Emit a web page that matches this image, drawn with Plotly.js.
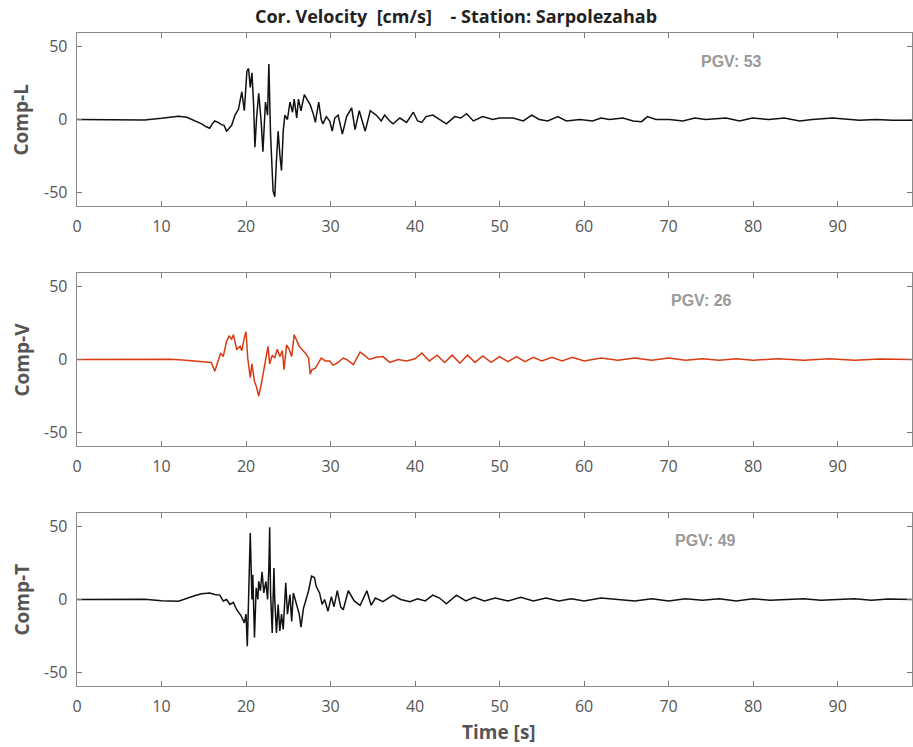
<!DOCTYPE html>
<html>
<head>
<meta charset="utf-8">
<script src="https://cdn.plot.ly/plotly-3.0.1.min.js"></script>
<style>html,body{margin:0;padding:0;background:#fff;}#chart{width:913px;height:747px;}</style>
</head>
<body>
<div id="chart"></div>
<script>
// ---- Data ----
const componentNames = ["Comp-L", "Comp-V", "Comp-T"];
const pgvValues = [53, 26, 49];
const xTickValues = [0, 10, 20, 30, 40, 50, 60, 70, 80, 90];
const yTickValues = [-50, 0, 50];

// Comp-L
const timeL = [
  0, 2, 4, 6, 8, 10, 11, 12, 13, 14,
  14.75, 15.3, 15.7, 16.0, 16.3, 16.7, 17.1, 17.4, 17.7, 18.0,
  18.3, 18.7, 19.1, 19.5, 19.8, 20.1, 20.3, 20.5, 20.7, 20.9,
  21.05, 21.25, 21.5, 21.8, 22.0, 22.3, 22.55, 22.7, 22.9, 23.2,
  23.4, 23.6, 23.8, 24.0, 24.2, 24.4, 24.6, 24.9, 25.2, 25.5,
  25.7, 26.0, 26.2, 26.5, 26.9, 27.2, 27.6, 28.0, 28.2, 28.6,
  28.9, 29.1, 29.5, 29.9, 30.2, 30.5, 30.9, 31.4, 31.9, 32.5,
  32.9, 33.4, 34.1, 34.7, 35.4, 36.0, 36.4, 37.0, 37.4, 38.2,
  39.0, 39.8, 40.3, 40.8, 41.3, 42.1, 42.9, 43.7, 44.7, 45.4,
  46.1, 46.9, 48.0, 49.2, 50.0, 51.6, 52.8, 53.8, 54.7, 55.7,
  56.9, 57.9, 59.5, 61.0, 62.0, 63.0, 64.6, 65.8, 66.8, 67.5,
  68.5, 70.1, 71.7, 73.1, 74.4, 76.8, 78.4, 79.9, 81.9, 83.7,
  85.5, 87.0, 89.4, 91.0, 92.6, 94.5, 96.5, 98.8
];
const velL = [
  0, 0, -0.3, -0.5, -0.3, 0.8, 1.8, 2.3, 1.5, -1,
  -3, -5, -6, -3, -1, -2, -3.5, -4, -8, -6,
  -4, 3, 7, 19, 6, 33, 35, 22, 32, 10,
  -19, 1, 18, -2, -22, 12, 3, 38, -10, -49,
  -53, -28, -8, -24, -35, -8, 3, 0, 12, 5,
  14, 1, 14, 6, 17, 14, 10, 3, -2, 12,
  0, -3, 2, -1, -8, 1, 3, -10, 2, 8,
  -7, 6, -8, 6, 3, -1, 3, -1, -3, 1,
  -2, 5, -1, -2, 2, 3, 0, -3, 2, 1,
  4, -1, 2, 0, 1, 1, -1, 3, 0, -1,
  2, -1, 0, -1, 1, 0, 1, -1, -1.5, 2,
  0, 0, -1, 1, 0, 1, -1, 1, 0, 1,
  -1, 0, 1, 0, -0.5, 0, -0.5, -0.5
];

// Comp-V
const timeV = [
  0, 3, 6, 9, 11, 12.5, 14.0, 15.0, 15.5, 15.9,
  16.3, 16.7, 17.0, 17.3, 17.7, 18.0, 18.3, 18.5, 18.9, 19.3,
  19.5, 19.8, 20.0, 20.2, 20.5, 20.7, 21.0, 21.25, 21.5, 21.8,
  22.0, 22.3, 22.6, 22.8, 23.1, 23.4, 23.7, 24.0, 24.3, 24.5,
  24.8, 25.1, 25.4, 25.7, 26.0, 26.3, 26.6, 27.0, 27.4, 27.6,
  27.8, 28.2, 28.6, 28.9, 29.4, 29.9, 30.3, 30.9, 31.5, 31.9,
  32.7, 33.5, 34.0, 34.6, 35.4, 36.2, 37.0, 38.0, 39.0, 40.0,
  40.8, 41.7, 42.6, 43.5, 44.4, 45.3, 46.2, 47.1, 48.0, 49.0,
  50.0, 51.0, 52.0, 53.0, 54.0, 55.0, 56.2, 57.4, 58.6, 60.0,
  62.0, 64.0, 66.0, 68.0, 70.0, 72.0, 74.0, 76.0, 78.0, 80.0,
  83.0, 86.0, 89.0, 92.0, 95.0, 98.8
];
const velV = [
  0, 0, 0.3, 0.3, 0.2, -0.3, -1, -1.2, -1.5, -2,
  -8, -1, 4.5, 2, 12.5, 16, 14, 17, 7, 9,
  6, 15, 19, 1, -12.5, -3, -15, -19, -25, -17,
  -10, -1, 9, -3, 3, 1, 7, 2, 6, -7,
  10, 7, 2, 17, 12.5, 9, 7, 4.5, 1, -10,
  -7, -6, -2, 1, -1, -1, -4, -2, 1, 0,
  -3.5, 5, 3, 0, 1.5, 2, -2, 0, -1, 0.5,
  4.5, -1, 3, -2, 3, -2.5, 3, -2, 2.5, -2,
  2, -1.5, 2, -1.5, 1.5, -1, 1.5, -1, 1.5, -1,
  1, -0.5, 1, -0.5, 1, -0.5, 0.5, -0.5, 0.5, -0.5,
  0.5, -0.5, 0.5, -0.5, 0.3, 0
];

// Comp-T
const timeT = [
  0, 4, 8, 10, 12, 14, 14.75, 15.7, 16.3, 16.9,
  17.3, 17.7, 18.1, 18.5, 18.9, 19.4, 19.8, 20.0, 20.15, 20.3,
  20.5, 20.7, 20.8, 21.0, 21.2, 21.4, 21.5, 21.7, 21.9, 22.1,
  22.35, 22.55, 22.7, 22.8, 22.9, 23.1, 23.3, 23.4, 23.6, 23.8,
  24.0, 24.2, 24.4, 24.7, 24.9, 25.2, 25.4, 25.6, 25.8, 26.0,
  26.3, 26.5, 26.8, 27.0, 27.4, 27.75, 28.1, 28.3, 28.7, 29.0,
  29.3, 29.7, 30.1, 30.4, 30.8, 31.2, 31.5, 32.1, 32.8, 33.5,
  34.3, 34.8, 35.3, 36.2, 37.4, 38.3, 39.4, 40.3, 41.2, 42.1,
  42.9, 43.7, 44.9, 46.0, 47.0, 48.2, 49.5, 51.0, 52.5, 54.0,
  55.5, 57.0, 58.5, 60.0, 62.0, 64.0, 66.0, 68.0, 70.0, 72.0,
  74.0, 76.0, 78.0, 80.0, 82.0, 84.0, 86.0, 88.0, 90.0, 92.0,
  94.0, 96.0, 98.8
];
const velT = [
  0, 0.3, 0.2, -0.8, -1.2, 2.7, 4, 4.5, 3.4, 3,
  -1, 0, -3.4, -2, -7, -11, -16, -10, -32, 0,
  45.6, 0, 17, -26, 8, 0, 12.5, 6, 19, 4.5,
  12.5, 0, 21.6, 49.5, 5, -23, 21.6, 0, -23, -3.4,
  -21.6, -10, -20.5, 11.4, -10, 3.4, -15, 4.5, 0, -3.4,
  -10, -19, -6, -2, 6, 16, 15, 9, 4.5, -3.4,
  0, -8, 2, -5, 6, -5, -7, 6, -1, -4,
  6, -4, 1, -1.5, 3, 0, -1.5, 0.5, -1, 3,
  1, -3, 3, -1, 1.5, -1, 1, -1, 1.5, -1,
  1, -1, 0.5, -1, 1, 0, -1, 0.5, -1, 0.5,
  -0.5, 0.5, -1, 0.5, -0.5, 0, 0.5, -0.5, 0, 0.5,
  -0.5, 0.3, 0
];

// ---- Figure ----
const lineColors = ["#111111", "#D93A12", "#111111"];
const times = [timeL, timeV, timeT];
const vels = [velL, velV, velT];

const traces = [0, 1, 2].map(i => ({
  type: "scatter",
  mode: "lines",
  x: times[i],
  y: vels[i],
  xaxis: i === 0 ? "x" : "x" + (i + 1),
  yaxis: i === 0 ? "y" : "y" + (i + 1),
  line: { color: lineColors[i], width: 1.5 },
  hoverinfo: "skip",
  showlegend: false
}));

const H = 653; // plot height in px
const domains = [
  [(686 - 206) / H, 1],
  [(686 - 446) / H, (686 - 273) / H],
  [0, 173 / H]
];

const tickFont = { family: "Open Sans, DejaVu Sans, sans-serif", size: 16, color: "#555" };

function xAxis(i) {
  return {
    domain: [0, 1],
    anchor: i === 0 ? "y" : "y" + (i + 1),
    range: [0, 98.8],
    tickvals: xTickValues,
    ticktext: xTickValues.map(String),
    ticks: "inside",
    ticklen: 5,
    tickwidth: 1,
    tickcolor: "#777",
    mirror: "ticks",
    showline: true,
    linecolor: "#8a8a8a",
    linewidth: 1.3,
    showgrid: false,
    zeroline: false,
    tickfont: tickFont,
    ticklabelstandoff: 5,
    fixedrange: true
  };
}
function yAxis(i) {
  return {
    domain: domains[i],
    anchor: i === 0 ? "x" : "x" + (i + 1),
    range: [-59.3, 59.3],
    tickvals: yTickValues,
    ticktext: yTickValues.map(String),
    ticks: "inside",
    ticklen: 5,
    tickwidth: 1,
    tickcolor: "#777",
    mirror: "ticks",
    showline: true,
    linecolor: "#8a8a8a",
    linewidth: 1.3,
    showgrid: false,
    zeroline: false,
    tickfont: tickFont,
    ticklabelstandoff: 5,
    fixedrange: true
  };
}

const annotations = [];
componentNames.forEach((name, i) => {
  annotations.push({
    text: "<b>" + name + "</b>",
    xref: "paper", yref: "paper",
    x: 0, y: (domains[i][0] + domains[i][1]) / 2,
    xanchor: "center", yanchor: "middle",
    xshift: -56,
    textangle: -90,
    showarrow: false,
    font: { family: "Open Sans, DejaVu Sans, sans-serif", size: 19, color: "#555" }
  });
});
const pgvX = [731, 701, 705];
const pgvYpx = [61, 300, 540];
pgvValues.forEach((v, i) => {
  annotations.push({
    text: "<b>PGV: " + v + "</b>",
    xref: "paper", yref: "paper",
    x: (pgvX[i] - 77) / 835,
    y: (686 - pgvYpx[i]) / H,
    xanchor: "center", yanchor: "middle",
    showarrow: false,
    font: { family: "Liberation Sans, Arial, sans-serif", size: 16, color: "#999" }
  });
});
annotations.push({
  text: "<b>Time [s]</b>",
  xref: "paper", yref: "paper",
  x: (499 - 77) / 835, y: (686 - 732) / H,
  xanchor: "center", yanchor: "middle",
  showarrow: false,
  font: { family: "Open Sans, DejaVu Sans, sans-serif", size: 19, color: "#555" }
});

const layout = {
  width: 913, height: 747,
  margin: { l: 77, r: 1, t: 33, b: 61, pad: 0 },
  paper_bgcolor: "#ffffff",
  plot_bgcolor: "#ffffff",
  title: {
    text: "<b>Cor. Velocity\u00A0\u00A0[cm/s]\u00A0\u00A0\u00A0\u00A0- Station: Sarpolezahab</b>",
    x: 456 / 913, xanchor: "center",
    y: (747 - 17) / 747, yanchor: "middle",
    font: { family: "Open Sans, DejaVu Sans, sans-serif", size: 18, color: "#222" }
  },
  showlegend: false,
  annotations: annotations,
  xaxis: xAxis(0), xaxis2: xAxis(1), xaxis3: xAxis(2),
  yaxis: yAxis(0), yaxis2: yAxis(1), yaxis3: yAxis(2)
};

Plotly.newPlot("chart", traces, layout, { staticPlot: true, displayModeBar: false });
</script>
</body>
</html>
